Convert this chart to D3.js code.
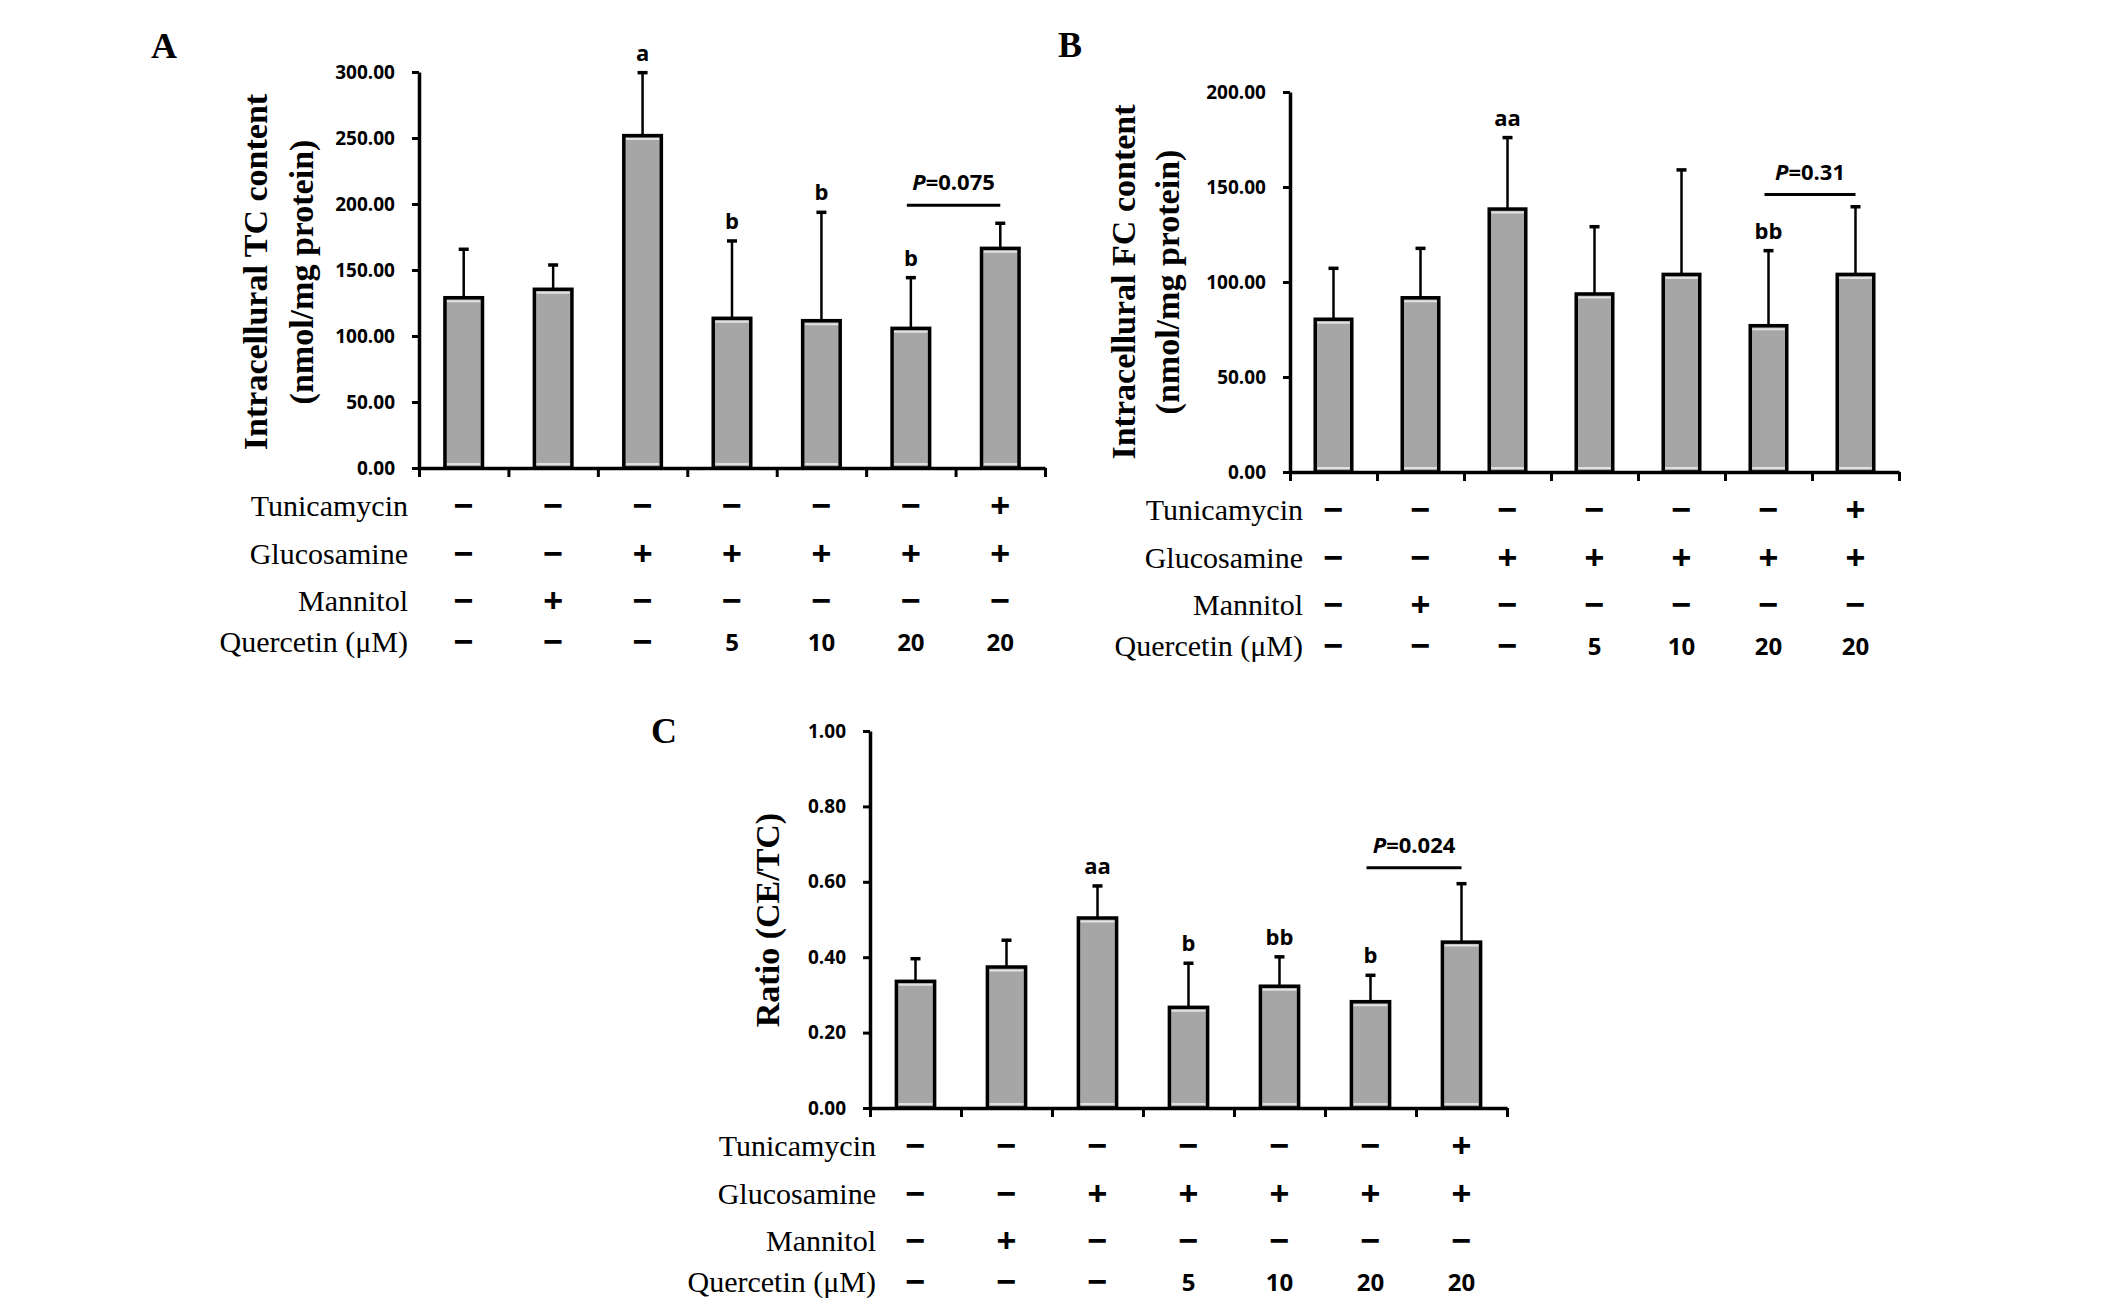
<!DOCTYPE html>
<html>
  <head>
    <meta charset="utf-8">
    <title>Intracellular TC / FC content and CE/TC ratio</title>
    <script src="https://d3js.org/d3.v7.min.js"></script>
    <style>
      body { margin: 0; background: #fff; }
      .tick text { font-family: "Open Sans", sans-serif; font-weight: 700; font-size: 19px; fill: #000; }
      .domain, .tick line { stroke: #000; }
      .ylab { font-family: "Liberation Serif", "Times New Roman", serif; font-weight: 700; font-size: 34px; }
      .rowlab { font-family: "Liberation Serif", "Times New Roman", serif; font-size: 30px; }
      .sym { font-family: "Liberation Sans", Arial, sans-serif; font-weight: 700; font-size: 34px; }
      .num { font-family: "Open Sans", sans-serif; font-weight: 700; font-size: 24px; }
      .sig { font-family: "Open Sans", sans-serif; font-weight: 700; font-size: 22px; }
      .panel { font-family: "Liberation Serif", "Times New Roman", serif; font-weight: 700; font-size: 36px; }
    </style>
  </head>
  <body>
    <div id="chart"></div>
    <script>
      var width = 2126,
        height = 1303;

      // treatment table (same for every panel)
      var rowLabels = ["Tunicamycin", "Glucosamine", "Mannitol", "Quercetin (μM)"];
      var tunicamycin = ["−", "−", "−", "−", "−", "−", "+"];
      var glucosamine = ["−", "−", "+", "+", "+", "+", "+"];
      var mannitol = ["−", "+", "−", "−", "−", "−", "−"];
      var quercetin = ["−", "−", "−", "5", "10", "20", "20"];
      var groups = ["g1", "g2", "g3", "g4", "g5", "g6", "g7"];

      // A: intracellular total cholesterol
      var tcMean = [129, 135.4, 251.8, 113.4, 111.6, 105.8, 166.4];
      var tcSD = [36.7, 18.4, 47.7, 58.6, 82.1, 38.4, 19.0];
      var tcSig = ["", "", "a", "b", "b", "b", ""];
      var tcTicks = [0, 50, 100, 150, 200, 250, 300];

      // B: intracellular free cholesterol
      var fcMean = [80.4, 91.7, 138.4, 93.7, 104, 77, 104];
      var fcSD = [26.8, 26, 37.6, 35.4, 55, 39.5, 35.6];
      var fcSig = ["", "", "aa", "", "", "bb", ""];
      var fcTicks = [0, 50, 100, 150, 200];

      // C: CE/TC ratio
      var ratioMean = [0.336, 0.374, 0.504, 0.267, 0.323, 0.282, 0.440];
      var ratioSD = [0.060, 0.071, 0.085, 0.117, 0.078, 0.070, 0.155];
      var ratioSig = ["", "", "aa", "b", "bb", "b", ""];
      var ratioTicks = [0, 0.2, 0.4, 0.6, 0.8, 1.0];

      // P value bracket between groups 6 and 7
      var pLabels = ["0.075", "0.31", "0.024"];
      var pLevels = [199, 146, 0.637];

      var svg = d3.select("#chart").append("svg")
        .attr("width", width)
        .attr("height", height);

      var rowOffsets = [37, 85, 132, 173];

      function drawPanel(p) {
        var W = p.x1 - p.x0;
        var g = svg.append("g").attr("transform", "translate(" + p.x0 + ",0)");

        var x = d3.scaleBand().domain(groups).range([0, W]).padding(0);
        var xb = d3.scaleLinear().domain([0, groups.length]).range([0, W]);
        var y = d3.scaleLinear().domain([0, d3.max(p.ticks)]).range([p.y0, p.yTop]);
        var bw = x.bandwidth() * 0.42;

        // bars
        var bars = g.selectAll(".bar").data(p.mean).enter().append("g");
        bars.append("rect")
          .attr("x", function (d, i) { return x(groups[i]) + (x.bandwidth() - bw) / 2; })
          .attr("y", function (d) { return y(d); })
          .attr("width", bw)
          .attr("height", function (d) { return p.y0 - y(d); })
          .attr("fill", "#a6a6a6");
        // light edge lines inside bars
        bars.append("line")
          .attr("x1", function (d, i) { return x(groups[i]) + (x.bandwidth() - bw) / 2 + 2; })
          .attr("x2", function (d, i) { return x(groups[i]) + (x.bandwidth() + bw) / 2 - 2; })
          .attr("y1", function (d) { return y(d) + 3.5; })
          .attr("y2", function (d) { return y(d) + 3.5; })
          .attr("stroke", "#e2e2e2").attr("stroke-width", 2);
        bars.append("line")
          .attr("x1", function (d, i) { return x(groups[i]) + (x.bandwidth() - bw) / 2 + 2; })
          .attr("x2", function (d, i) { return x(groups[i]) + (x.bandwidth() + bw) / 2 - 2; })
          .attr("y1", p.y0 - 4).attr("y2", p.y0 - 4)
          .attr("stroke", "#e2e2e2").attr("stroke-width", 2);

        // error bars (upper only)
        var cx = function (i) { return x(groups[i]) + x.bandwidth() / 2; };
        bars.append("line")
          .attr("x1", function (d, i) { return cx(i); })
          .attr("x2", function (d, i) { return cx(i); })
          .attr("y1", function (d) { return y(d); })
          .attr("y2", function (d, i) { return y(d + p.sd[i]); })
          .attr("stroke", "#000").attr("stroke-width", 2.5);
        bars.append("line")
          .attr("x1", function (d, i) { return cx(i) - 5; })
          .attr("x2", function (d, i) { return cx(i) + 5; })
          .attr("y1", function (d, i) { return y(d + p.sd[i]); })
          .attr("y2", function (d, i) { return y(d + p.sd[i]); })
          .attr("stroke", "#000").attr("stroke-width", 3.5);

        bars.append("rect")
          .attr("x", function (d, i) { return x(groups[i]) + (x.bandwidth() - bw) / 2; })
          .attr("y", function (d) { return y(d); })
          .attr("width", bw)
          .attr("height", function (d) { return p.y0 - y(d); })
          .attr("fill", "none").attr("stroke", "#000").attr("stroke-width", 3.5);

        // significance letters
        bars.append("text")
          .attr("class", "sig")
          .attr("x", function (d, i) { return cx(i); })
          .attr("y", function (d, i) { return y(d + p.sd[i]) - 12; })
          .attr("text-anchor", "middle")
          .text(function (d, i) { return p.sig[i]; });

        // axes
        var ya = g.append("g")
          .call(d3.axisLeft(y).tickValues(p.ticks).tickFormat(d3.format(".2f"))
            .tickSize(7).tickSizeOuter(0).tickPadding(17));
        ya.select(".domain").attr("stroke-width", 3.5);
        ya.selectAll(".tick line").attr("stroke-width", 3);

        var xa = g.append("g").attr("transform", "translate(0," + p.y0 + ")")
          .call(d3.axisBottom(xb).tickValues(d3.range(groups.length + 1)).tickFormat("")
            .tickSize(9).tickSizeOuter(0));
        xa.select(".domain").attr("stroke-width", 3.5);
        xa.selectAll(".tick line").attr("stroke-width", 3);

        // P value bracket
        var py = y(p.pLevel);
        g.append("line")
          .attr("x1", cx(5) - 4).attr("x2", cx(6))
          .attr("y1", py).attr("y2", py)
          .attr("stroke", "#000").attr("stroke-width", 3);
        var pt = g.append("text").attr("class", "sig")
          .attr("x", (cx(5) + cx(6)) / 2 - 2)
          .attr("y", py - 15)
          .attr("text-anchor", "middle");
        pt.append("tspan").attr("font-style", "italic").text("P");
        pt.append("tspan").text("=" + p.pLabel);

        // y axis title
        var lab = svg.append("g")
          .attr("transform", "translate(0," + p.labY + ")");
        p.ylab.forEach(function (t, k) {
          lab.append("text").attr("class", "ylab")
            .attr("transform", "translate(" + p.labX[k] + ",0) rotate(-90)")
            .attr("text-anchor", "middle")
            .attr("dominant-baseline", "central")
            .text(t);
        });

        // panel letter
        svg.append("text").attr("class", "panel")
          .attr("x", p.letterX).attr("y", p.letterY)
          .attr("text-anchor", "middle")
          .text(p.letter);

        // treatment table
        var rows = [tunicamycin, glucosamine, mannitol, quercetin];
        rows.forEach(function (r, k) {
          var ry = p.y0 + rowOffsets[k];
          svg.append("text").attr("class", "rowlab")
            .attr("x", p.rowLabX).attr("y", ry)
            .attr("text-anchor", "end")
            .attr("dominant-baseline", "central")
            .text(rowLabels[k]);
          g.selectAll(null).data(r).enter().append("text")
            .attr("class", function (d) { return (d === "+" || d === "−") ? "sym" : "num"; })
            .attr("x", function (d, i) { return cx(i); })
            .attr("y", ry)
            .attr("text-anchor", "middle")
            .attr("dominant-baseline", "central")
            .text(function (d) { return d; });
        });
      }

      drawPanel({
        letter: "A", letterX: 164, letterY: 58,
        x0: 419, x1: 1045, y0: 468, yTop: 72,
        mean: tcMean, sd: tcSD, sig: tcSig, ticks: tcTicks,
        pLabel: pLabels[0], pLevel: pLevels[0],
        ylab: ["Intracellural TC content", "(nmol/mg protein)"],
        labX: [255, 301], labY: 272, rowLabX: 408
      });

      drawPanel({
        letter: "B", letterX: 1070, letterY: 57,
        x0: 1290, x1: 1899, y0: 472, yTop: 92,
        mean: fcMean, sd: fcSD, sig: fcSig, ticks: fcTicks,
        pLabel: pLabels[1], pLevel: pLevels[1],
        ylab: ["Intracellural FC content", "(nmol/mg protein)"],
        labX: [1123, 1167], labY: 282, rowLabX: 1303
      });

      drawPanel({
        letter: "C", letterX: 664, letterY: 743,
        x0: 870, x1: 1507, y0: 1108, yTop: 731,
        mean: ratioMean, sd: ratioSD, sig: ratioSig, ticks: ratioTicks,
        pLabel: pLabels[2], pLevel: pLevels[2],
        ylab: ["Ratio (CE/TC)"],
        labX: [767], labY: 920, rowLabX: 876
      });
    </script>
  </body>
</html>
